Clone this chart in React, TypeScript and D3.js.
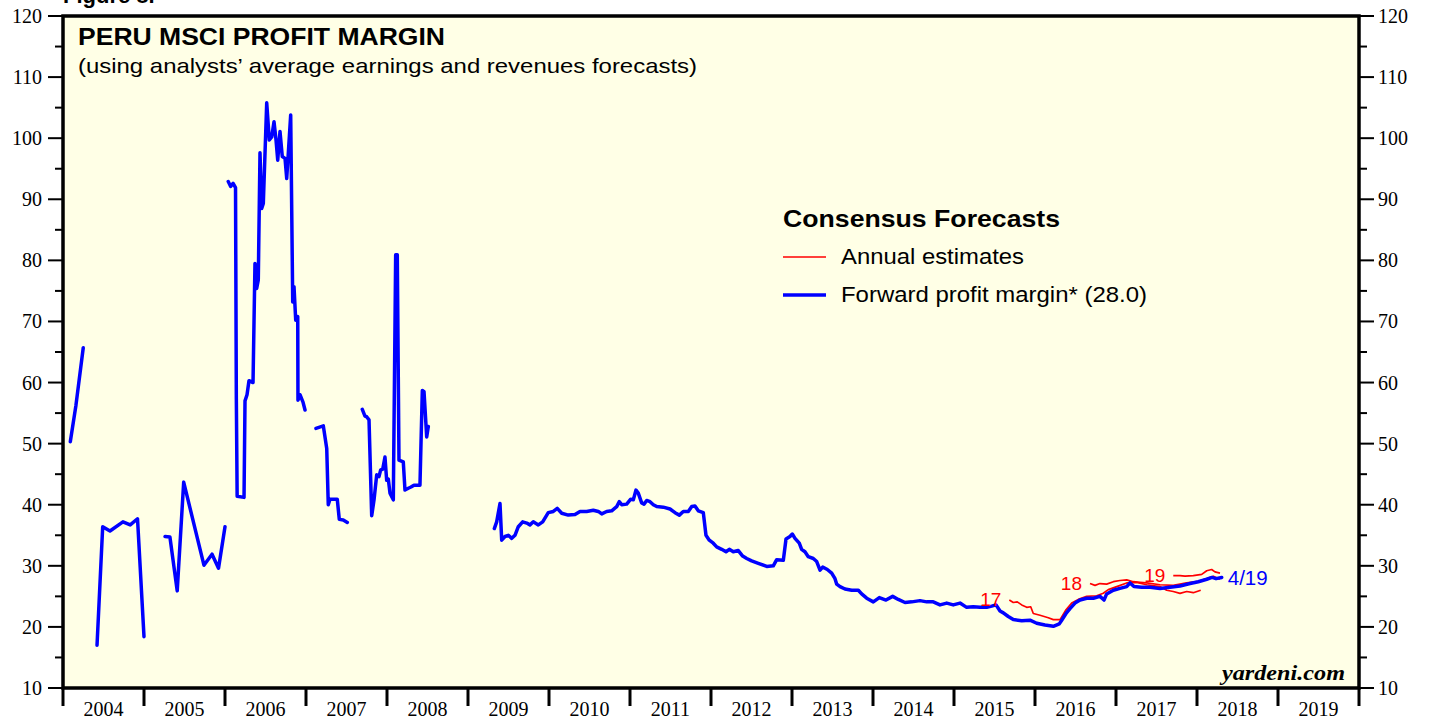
import React from 'react';
import * as d3 from 'd3';

// forward profit margin (blue), pieces separated by gaps in the source data
const fwd2004a: [number, number][] = [[2004.09, 50.3], [2004.16, 56.3], [2004.25, 65.7]];
const fwd2004b: [number, number][] = [
  [2004.42, 17.0], [2004.49, 36.4], [2004.58, 35.7], [2004.74, 37.2], [2004.83, 36.7], [2004.92, 37.7], [2005.0, 18.4],
];
const fwd2005: [number, number][] = [
  [2005.26, 34.8], [2005.32, 34.7], [2005.41, 25.9], [2005.49, 43.7], [2005.74, 30.1], [2005.84, 31.9], [2005.92, 29.6], [2006.0, 36.4],
];
const fwd2006: [number, number][] = [
  [2006.04, 92.9], [2006.07, 92.1], [2006.1, 92.6], [2006.13, 91.9], [2006.14, 57.3], [2006.15, 41.4], [2006.235, 41.2],
  [2006.247, 57.0], [2006.272, 58.0], [2006.296, 60.3], [2006.346, 60.0], [2006.37, 79.5], [2006.391, 75.4], [2006.411, 76.8],
  [2006.432, 97.6], [2006.453, 88.5], [2006.473, 89.3], [2006.515, 105.8], [2006.547, 99.7], [2006.577, 100.2], [2006.605, 102.7],
  [2006.63, 99.7], [2006.651, 96.4], [2006.679, 101.1], [2006.707, 97.0], [2006.741, 96.7], [2006.762, 93.4], [2006.811, 103.8],
  [2006.836, 73.2], [2006.852, 75.7], [2006.873, 70.2], [2006.898, 70.8], [2006.901, 57.1], [2006.926, 58.0], [2006.963, 56.8],
  [2006.988, 55.5],
];
const fwd2007a: [number, number][] = [
  [2007.123, 52.5], [2007.214, 52.9], [2007.256, 49.2], [2007.275, 40.0], [2007.296, 40.9], [2007.386, 40.9], [2007.411, 37.6],
  [2007.46, 37.5], [2007.51, 37.1],
];
const fwd2007b: [number, number][] = [
  [2007.695, 55.6], [2007.728, 54.5], [2007.749, 54.4], [2007.778, 53.9], [2007.811, 38.2], [2007.84, 40.8], [2007.873, 44.9],
  [2007.901, 44.6], [2007.922, 45.7], [2007.947, 45.8], [2007.975, 47.8], [2007.996, 44.0], [2008.016, 44.2], [2008.037, 41.9],
  [2008.078, 40.8], [2008.107, 80.9], [2008.127, 80.9], [2008.148, 47.3], [2008.201, 47.0], [2008.222, 42.4], [2008.263, 42.7],
  [2008.296, 42.9], [2008.333, 43.2], [2008.407, 43.2], [2008.436, 58.7], [2008.457, 58.5], [2008.49, 51.1], [2008.51, 52.8],
];
const fwd2009: [number, number][] = [
  [2009.325, 36.1], [2009.354, 37.2], [2009.395, 40.2], [2009.416, 34.2], [2009.457, 34.8], [2009.498, 35.0], [2009.54, 34.5],
  [2009.58, 35.0], [2009.621, 36.4], [2009.675, 37.2], [2009.725, 37.0], [2009.765, 36.7], [2009.806, 37.2], [2009.868, 36.7],
  [2009.922, 37.2], [2009.991, 38.7], [2010.053, 38.9], [2010.102, 39.4], [2010.157, 38.6], [2010.238, 38.3], [2010.321, 38.4],
  [2010.383, 38.9], [2010.465, 38.9], [2010.547, 39.1], [2010.609, 38.9], [2010.651, 38.5], [2010.712, 38.9], [2010.774, 39.0],
  [2010.836, 39.7], [2010.868, 40.5], [2010.898, 40.0], [2010.959, 40.1], [2011.009, 40.9], [2011.041, 40.8], [2011.074, 42.4],
  [2011.102, 41.9], [2011.144, 40.3], [2011.173, 40.1], [2011.206, 40.7], [2011.247, 40.5], [2011.288, 40.0], [2011.33, 39.7],
  [2011.411, 39.6], [2011.494, 39.3], [2011.556, 38.7], [2011.609, 38.3], [2011.658, 38.9], [2011.72, 38.9], [2011.762, 39.7],
  [2011.802, 39.8], [2011.843, 39.0], [2011.905, 38.7], [2011.938, 35.0], [2011.979, 34.2], [2012.028, 33.7], [2012.07, 33.1],
  [2012.132, 32.7], [2012.185, 32.3], [2012.226, 32.7], [2012.275, 32.3], [2012.337, 32.5], [2012.391, 31.6], [2012.441, 31.2],
  [2012.502, 30.8], [2012.584, 30.4], [2012.688, 29.9], [2012.769, 30.0], [2012.811, 31.0], [2012.893, 30.9], [2012.926, 34.4],
  [2012.975, 34.8], [2013.004, 35.2], [2013.037, 34.5], [2013.09, 33.7], [2013.119, 32.7], [2013.16, 32.3], [2013.201, 31.5],
  [2013.263, 31.2], [2013.305, 30.7], [2013.346, 29.3], [2013.379, 29.8], [2013.436, 29.4], [2013.49, 28.8], [2013.531, 27.9],
  [2013.552, 27.0], [2013.593, 26.6], [2013.654, 26.2], [2013.737, 26.0], [2013.819, 26.0], [2013.86, 25.4], [2013.922, 24.7],
  [2014.004, 24.1], [2014.078, 24.8], [2014.16, 24.4], [2014.243, 25.0], [2014.312, 24.5], [2014.395, 24.0], [2014.478, 24.1],
  [2014.58, 24.3], [2014.663, 24.1], [2014.744, 24.1], [2014.827, 23.6], [2014.91, 23.9], [2014.991, 23.6], [2015.074, 23.9],
  [2015.156, 23.2], [2015.238, 23.3], [2015.321, 23.2], [2015.404, 23.2], [2015.465, 23.4], [2015.519, 23.6], [2015.568, 22.6],
  [2015.609, 22.3], [2015.67, 21.7], [2015.732, 21.2], [2015.836, 21.0], [2015.938, 21.1], [2016.021, 20.6], [2016.123, 20.3],
  [2016.226, 20.1], [2016.3, 20.5], [2016.33, 21.1], [2016.383, 22.2], [2016.432, 23.0], [2016.494, 23.9], [2016.556, 24.4],
  [2016.638, 24.7], [2016.72, 24.7], [2016.802, 25.0], [2016.852, 24.4], [2016.885, 25.4], [2016.967, 26.0], [2017.049, 26.3],
  [2017.132, 26.6], [2017.173, 27.2], [2017.222, 26.6], [2017.317, 26.5], [2017.42, 26.5], [2017.543, 26.3], [2017.667, 26.5],
  [2017.79, 26.7], [2017.914, 27.1], [2018.016, 27.4], [2018.12, 27.8], [2018.185, 28.1], [2018.235, 27.9], [2018.305, 28.1],
];
const fwdSegments = [fwd2004a, fwd2004b, fwd2005, fwd2006, fwd2007a, fwd2007b, fwd2009];

// annual consensus estimates (red)
const est17: [number, number][] = [
  [2015.683, 24.4], [2015.732, 24.0], [2015.781, 24.1], [2015.836, 23.6], [2015.898, 23.2], [2015.947, 23.3], [2015.979, 22.2],
  [2016.062, 21.9], [2016.164, 21.5], [2016.226, 21.2], [2016.309, 21.2], [2016.383, 22.8], [2016.453, 23.9], [2016.535, 24.5],
  [2016.638, 25.0], [2016.762, 25.1], [2016.843, 25.5], [2016.905, 26.1], [2017.009, 26.6], [2017.132, 27.2], [2017.255, 27.3],
  [2017.379, 26.9], [2017.543, 26.6], [2017.626, 26.0], [2017.707, 25.8], [2017.79, 25.5], [2017.873, 25.8], [2017.954, 25.6],
  [2018.046, 26.0],
];
const est18: [number, number][] = [
  [2016.679, 27.1], [2016.741, 26.8], [2016.802, 27.1], [2016.885, 27.0], [2016.967, 27.4], [2017.049, 27.6], [2017.132, 27.7],
  [2017.214, 27.4], [2017.296, 27.3], [2017.379, 27.2], [2017.543, 26.9], [2017.707, 26.8], [2017.873, 27.2], [2017.996, 27.4],
  [2018.12, 27.9], [2018.202, 28.3], [2018.284, 27.8],
];
const est19: [number, number][] = [
  [2017.707, 28.4], [2017.79, 28.4], [2017.852, 28.3], [2017.954, 28.4], [2018.058, 28.6], [2018.12, 29.2], [2018.181, 29.4],
  [2018.222, 29.0], [2018.284, 28.8],
];
const estLabels = ['17', '18', '19'];
const estSeries = [est17, est18, est19];

const years = d3.range(2004, 2020);
const yMajor = d3.range(10, 121, 10);
const yMinor = d3.range(15, 120, 10);

const W = 1429;
const H = 719;
const L = 63, R = 1359, T = 16, B = 688;
const serif = '"Liberation Serif", "DejaVu Serif", serif';
const sans = '"Liberation Sans", Arial, sans-serif';

export default function App() {
  const x = d3.scaleLinear().domain([2004, 2020]).range([L, R]);
  const y = d3.scaleLinear().domain([10, 120]).range([B, T]);
  const line = d3.line<[number, number]>().x(d => x(d[0])).y(d => y(d[1]));
  const last = fwd2009[fwd2009.length - 1];

  return (
    <svg width={W} height={H} style={{ position: 'absolute', left: 0, top: 0, background: '#fff' }}>
      <text x={63} y={3} fontFamily={sans} fontWeight="bold" fontSize={22}>Figure 8.</text>
      <rect x={L} y={T} width={R - L} height={B - T} fill="#FFFFE6" />

      {/* y ticks both sides */}
      {yMajor.map(v => (
        <g key={'M' + v}>
          <line x1={L - 15} x2={L} y1={y(v)} y2={y(v)} stroke="#000" strokeWidth={2} />
          <line x1={R} x2={R + 15} y1={y(v)} y2={y(v)} stroke="#000" strokeWidth={2} />
          <text x={42} y={y(v)} dy="0.35em" textAnchor="end" fontFamily={serif} fontSize={20}>{v}</text>
          <text x={1378} y={y(v)} dy="0.35em" textAnchor="start" fontFamily={serif} fontSize={20}>{v}</text>
        </g>
      ))}
      {yMinor.map(v => (
        <g key={'m' + v}>
          <line x1={L - 8} x2={L} y1={y(v)} y2={y(v)} stroke="#000" strokeWidth={2} />
          <line x1={R} x2={R + 8} y1={y(v)} y2={y(v)} stroke="#000" strokeWidth={2} />
        </g>
      ))}

      {/* x ticks and year labels */}
      {d3.range(2004, 2021).map(yr => (
        <line key={'t' + yr} x1={x(yr)} x2={x(yr)} y1={B} y2={B + 18} stroke="#000" strokeWidth={3} />
      ))}
      {years.map(yr => (
        <text key={'y' + yr} x={x(yr + 0.5)} y={716} textAnchor="middle" fontFamily={serif} fontSize={20}>{yr}</text>
      ))}

      {/* series */}
      {estSeries.map((s, i) => (
        <path key={'e' + i} d={line(s) || ''} fill="none" stroke="#FF0000" strokeWidth={1.7} strokeLinejoin="round" />
      ))}
      {fwdSegments.map((s, i) => (
        <path key={'f' + i} d={line(s) || ''} fill="none" stroke="#0000FF" strokeWidth={3.5} strokeLinejoin="round" strokeLinecap="round" />
      ))}
      {estLabels.map((lab, i) => (
        <text key={'l' + i} x={x(estSeries[i][0][0]) - 8} y={y(estSeries[i][0][1]) + 6} textAnchor="end"
          fontFamily={sans} fontSize={19} fill="#FF0000">{lab}</text>
      ))}
      <text x={x(last[0]) + 6} y={y(last[1]) + 8} fontFamily={sans} fontSize={20} fill="#0000FF"
        textLength={40} lengthAdjust="spacingAndGlyphs">4/19</text>

      {/* frame */}
      <rect x={L} y={T} width={R - L} height={B - T} fill="none" stroke="#000" strokeWidth={3.5} />

      {/* titles */}
      <text x={78} y={45} fontFamily={sans} fontWeight="bold" fontSize={24}
        textLength={367} lengthAdjust="spacingAndGlyphs">PERU MSCI PROFIT MARGIN</text>
      <text x={78} y={73} fontFamily={sans} fontSize={21}
        textLength={619} lengthAdjust="spacingAndGlyphs">(using analysts’ average earnings and revenues forecasts)</text>

      {/* legend */}
      <text x={783} y={227} fontFamily={sans} fontWeight="bold" fontSize={24}
        textLength={277} lengthAdjust="spacingAndGlyphs">Consensus Forecasts</text>
      <line x1={783} x2={826} y1={257} y2={257} stroke="#FF0000" strokeWidth={1.7} />
      <text x={841} y={264} fontFamily={sans} fontSize={22}
        textLength={183} lengthAdjust="spacingAndGlyphs">Annual estimates</text>
      <line x1={783} x2={826} y1={295} y2={295} stroke="#0000FF" strokeWidth={3.5} />
      <text x={841} y={302} fontFamily={sans} fontSize={22}
        textLength={306} lengthAdjust="spacingAndGlyphs">Forward profit margin* (28.0)</text>

      <text x={1345} y={680} textAnchor="end" fontFamily={serif} fontStyle="italic" fontWeight="bold" fontSize={21}
        textLength={123} lengthAdjust="spacingAndGlyphs">yardeni.com</text>
    </svg>
  );
}
